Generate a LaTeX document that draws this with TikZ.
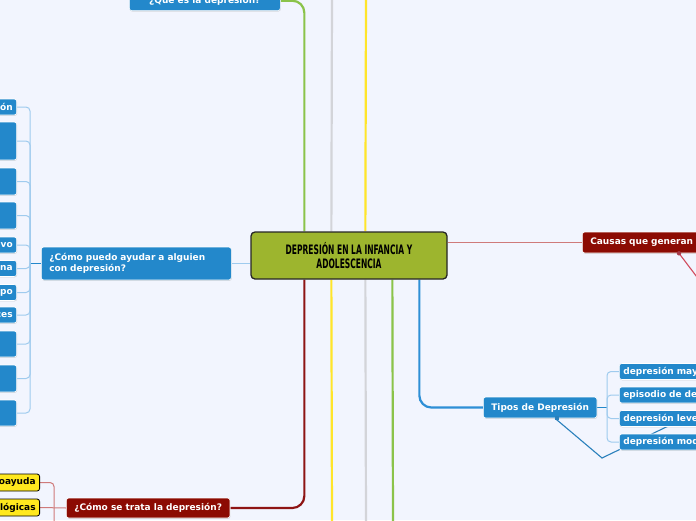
\documentclass[tikz,border=0pt]{standalone}
\usepackage{fontspec}
\setsansfont{DejaVu Sans}
\newfontfamily\titlefont[FakeStretch=0.58]{DejaVu Sans}
\usetikzlibrary{shadows}

\definecolor{bgpage}{HTML}{F2F5FE}
\definecolor{topicblue}{HTML}{2388CB}
\definecolor{topicred}{HTML}{8C0B03}
\definecolor{rootolive}{HTML}{9DB52E}
\definecolor{boxyellow}{HTML}{FFE81E}
\definecolor{brgreen}{HTML}{8BC34A}
\definecolor{brgray}{HTML}{D3D4D9}
\definecolor{bryellow}{HTML}{FFE52A}
\definecolor{brred}{HTML}{8E1414}
\definecolor{brblue}{HTML}{2E8FD6}
\definecolor{linkblue}{HTML}{9FCBEE}
\definecolor{linkred}{HTML}{CF7A7A}
\definecolor{relblue}{HTML}{2A80BC}
\definecolor{relred}{HTML}{D04A5C}

\pgfdeclarelayer{bg}
\pgfdeclarelayer{links}
\pgfsetlayers{bg,links,main}

\tikzset{
  boxfont/.style={font=\sffamily\bfseries\fontsize{9}{11.2}\selectfont},
  topic/.style={boxfont, rounded corners=2.5pt, fill=topicblue, draw=white,
    line width=0.6pt, text=white, inner xsep=8pt, inner ysep=0pt,
    drop shadow={shadow xshift=0.5pt, shadow yshift=-0.8pt, opacity=0.3}},
  subtopic/.style={topic, inner xsep=4pt},
  cutleft/.style={subtopic, anchor=east, text width=40pt, align=right},
  yellowbox/.style={boxfont, rounded corners=2.5pt, fill=boxyellow, draw=black,
    line width=0.8pt, text=black, inner xsep=4pt, inner ysep=0pt, minimum height=17pt,
    anchor=east, text width=50pt, align=right},
  rootbox/.style={rounded corners=4pt, fill=rootolive, draw=black!85, line width=1.3pt,
    font=\titlefont\bfseries\fontsize{13}{14}\selectfont, align=center,
    minimum width=196pt, minimum height=47pt, inner sep=0pt},
  branch/.style={line width=2.2pt, rounded corners=12pt},
  bluelink/.style={linkblue, line width=1pt, rounded corners=4pt},
  redlink/.style={linkred, line width=1pt, rounded corners=4pt},
}

\begin{document}
\begin{tikzpicture}[x=1pt,y=-1pt]
  \useasboundingbox (0,0) rectangle (696,520);
  \clip (0,0) rectangle (696,520);
  \begin{pgfonlayer}{bg}
    \fill[bgpage] (0,0) rectangle (696,520);
  \end{pgfonlayer}

  % central topic
  \node[rootbox] (root) at (349,255.5) {DEPRESIÓN EN LA INFANCIA Y\\ADOLESCENCIA};

  % main topics
  \node[topic, anchor=south west, minimum width=151pt, minimum height=20pt] (que) at (129,11) {¿Qué es la depresión?};
  \node[topic, anchor=west, minimum height=33pt, text width=174pt, align=left] (ayudar) at (41,263.5) {¿Cómo puedo ayudar a alguien\\con depresión?};
  \node[topic, fill=topicred, anchor=west, minimum width=162pt, minimum height=20pt] (trata) at (66,508) {¿Cómo se trata la depresión?};
  \node[topic, fill=topicred, anchor=west, minimum height=21pt, text width=130pt, align=left] (causas) at (582,242.5) {Causas que generan d};
  \node[topic, anchor=west, minimum width=113pt, minimum height=21pt] (tipos) at (483,407.5) {Tipos de Depresión};

  % cut children on the left
  \node[cutleft, minimum height=16pt] (h1) at (17,107) {ón};
  \node[cutleft, minimum height=38pt] (h2) at (17,141) {};
  \node[cutleft, minimum height=27pt] (h3) at (17,181.5) {};
  \node[cutleft, minimum height=27pt] (h4) at (17,215.5) {};
  \node[cutleft, minimum height=16pt] (h5) at (17,245) {vo};
  \node[cutleft, minimum height=16pt] (h6) at (17,268.5) {na};
  \node[cutleft, minimum height=16pt] (h7) at (17,292.5) {po};
  \node[cutleft, minimum height=16pt] (h8) at (17,315) {ces};
  \node[cutleft, minimum height=26pt] (h9) at (17,344) {};
  \node[cutleft, minimum height=27pt] (h10) at (17,378.5) {};
  \node[cutleft, minimum height=26pt] (h11) at (17,413) {};

  % treatment children
  \node[yellowbox] (autoayuda) at (40,482.5) {oayuda};
  \node[yellowbox] (psico) at (40,507.5) {lógicas};

  % types of depression
  \node[subtopic, anchor=west, text width=100pt, align=left, minimum height=16pt] (t1) at (619,371.5) {depresión may};
  \node[subtopic, anchor=west, text width=100pt, align=left, minimum height=16pt] (t2) at (619,395) {episodio de de};
  \node[subtopic, anchor=west, text width=100pt, align=left, minimum height=16pt] (t3) at (619,418.5) {depresión leve};
  \node[subtopic, anchor=west, text width=100pt, align=left, minimum height=16pt] (t4) at (619,442) {depresión mod};

  % free ends
  \coordinate (grayup) at (332,-5);
  \coordinate (yellowup) at (366,-5);
  \coordinate (yellowdown) at (332,525);
  \coordinate (graydown) at (366,525);
  \coordinate (greendown) at (393,525);
  \coordinate (hub) at (30,263.5);
  \coordinate (treathub) at (54,525);
  \coordinate (typehub) at (607,407.5);
  \coordinate (relbend) at (602,458);
  \coordinate (relend) at (716,403);
  \coordinate (causend) at (706,289);

  \begin{pgfonlayer}{links}
    % branches
    \draw[branch, brgreen] ([xshift=54pt]root.north west) |- (que.east);
    \draw[branch, brgray] ([xshift=81pt]root.north west) -- (grayup);
    \draw[branch, bryellow] ([xshift=115pt]root.north west) -- (yellowup);
    \draw[branch, brred] ([xshift=54pt]root.south west) |- (trata.east);
    \draw[branch, bryellow] ([xshift=81pt]root.south west) -- (yellowdown);
    \draw[branch, brgray] ([xshift=115pt]root.south west) -- (graydown);
    \draw[branch, brgreen] ([xshift=142pt]root.south west) -- (greendown);
    \draw[branch, brblue] ([xshift=169pt]root.south west) |- (tipos.west);
    \draw[linkblue, line width=1pt] (root.west |- ayudar.east) -- (ayudar.east);
    \draw[linkred, line width=1pt] (root.east |- causas.west) -- (causas.west);

    % left bracket
    \draw[bluelink, topicblue] (ayudar.west) -- (hub);
    \draw[bluelink] (hub) |- (h1.east);
    \draw[bluelink] (hub) |- (h2.east);
    \draw[bluelink] (hub) |- (h3.east);
    \draw[bluelink] (hub) |- (h4.east);
    \draw[bluelink] (hub) |- (h5.east);
    \draw[bluelink] (hub) |- (h6.east);
    \draw[bluelink] (hub) |- (h7.east);
    \draw[bluelink] (hub) |- (h8.east);
    \draw[bluelink] (hub) |- (h9.east);
    \draw[bluelink] (hub) |- (h10.east);
    \draw[bluelink] (hub) |- (h11.east);

    % treatment bracket
    \draw[redlink] (autoayuda.east) -| (treathub);
    \draw[redlink] (psico.east) -- (trata.west);

    % types bracket
    \draw[bluelink, topicblue] (tipos.east) -- (typehub);
    \draw[bluelink] (typehub) |- (t1.west);
    \draw[bluelink] (typehub) |- (t2.west);
    \draw[bluelink] (typehub) |- (t3.west);
    \draw[bluelink] (typehub) |- (t4.west);

    % relations
    \draw[relblue, line width=1.1pt] ([xshift=72pt]tipos.south west) -- (relbend) -- (relend);
    \draw[relred, line width=1.1pt] ([xshift=97pt]causas.south west) -- (causend);
  \end{pgfonlayer}
  \fill[relblue] ([xshift=72pt,yshift=-2pt]tipos.south west) rectangle +(4,-4);
  \fill[relred!80!black] ([xshift=97pt]causas.south west) circle (2.2pt);
\end{tikzpicture}
\end{document}
